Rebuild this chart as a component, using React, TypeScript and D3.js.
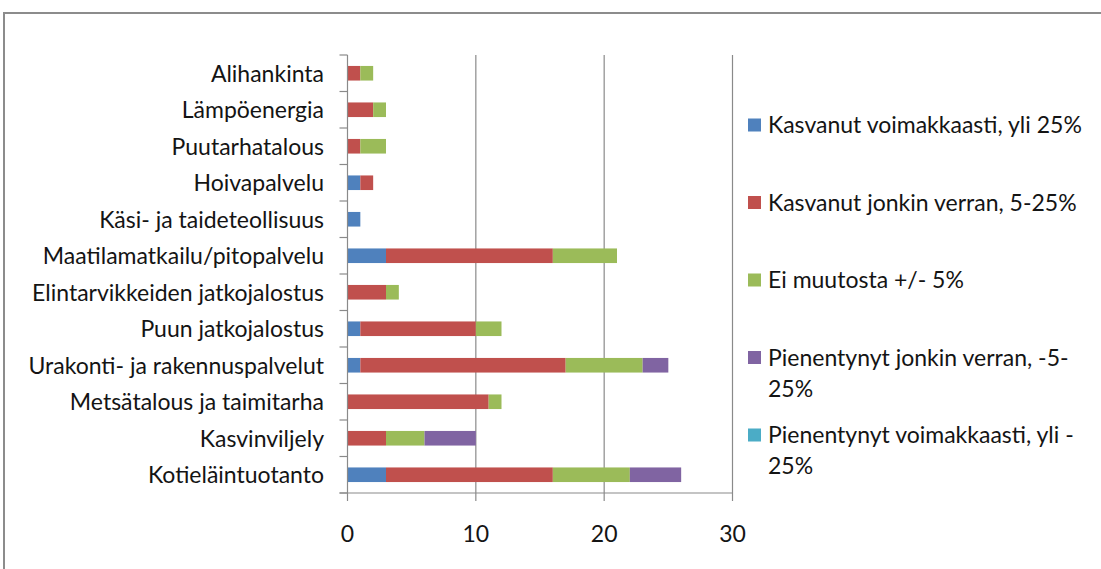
import React from 'react';
import * as d3 from 'd3';

// categories, top to bottom as in the chart
const categories = [
  'Alihankinta',
  'Lämpöenergia',
  'Puutarhatalous',
  'Hoivapalvelu',
  'Käsi- ja taideteollisuus',
  'Maatilamatkailu/pitopalvelu',
  'Elintarvikkeiden jatkojalostus',
  'Puun jatkojalostus',
  'Urakonti- ja rakennuspalvelut',
  'Metsätalous ja taimitarha',
  'Kasvinviljely',
  'Kotieläintuotanto',
];

const kasvanutVoimakkaasti = [0, 0, 0, 1, 1, 3, 0, 1, 1, 0, 0, 3];
const kasvanutJonkin = [1, 2, 1, 1, 0, 13, 3, 9, 16, 11, 3, 13];
const eiMuutosta = [1, 1, 2, 0, 0, 5, 1, 2, 6, 1, 3, 6];
const pienentynytJonkin = [0, 0, 0, 0, 0, 0, 0, 0, 2, 0, 4, 4];
const pienentynytVoimakkaasti = [0, 0, 0, 0, 0, 0, 0, 0, 0, 0, 0, 0];

const seriesNames = [
  'Kasvanut voimakkaasti, yli 25%',
  'Kasvanut jonkin verran, 5-25%',
  'Ei muutosta +/- 5%',
  'Pienentynyt jonkin verran, -5-25%',
  'Pienentynyt voimakkaasti, yli -25%',
];
// how the legend wraps the names
const legendLines = [
  ['Kasvanut voimakkaasti, yli 25%'],
  ['Kasvanut jonkin verran, 5-25%'],
  ['Ei muutosta +/- 5%'],
  ['Pienentynyt jonkin verran, -5-', '25%'],
  ['Pienentynyt voimakkaasti, yli -', '25%'],
];
const colors = ['#4F81BD', '#C0504D', '#9BBB59', '#8064A2', '#4BACC6'];
const xTicks = [0, 10, 20, 30];

const FONT = 'Lato, "Open Sans", sans-serif';
const FS = 23;

export default function App() {
  const width = 1101;
  const height = 569;
  const left = 347.5;
  const right = 732.5;
  const top = 55;
  const bottom = 493;

  const rows = categories.map((c, i) => ({
    cat: c,
    s0: kasvanutVoimakkaasti[i],
    s1: kasvanutJonkin[i],
    s2: eiMuutosta[i],
    s3: pienentynytJonkin[i],
    s4: pienentynytVoimakkaasti[i],
  }));
  const keys = ['s0', 's1', 's2', 's3', 's4'];
  const stacked = d3.stack<any>().keys(keys)(rows);

  const x = d3.scaleLinear().domain([0, 30]).range([left, right]);
  const y = d3
    .scaleBand<string>()
    .domain(categories)
    .range([top, bottom])
    .paddingInner(0.6)
    .paddingOuter(0.3);
  const step = y.step();
  const boundaries = d3.range(categories.length + 1).map((i) => top + i * step);

  const gridColor = '#8a8a8a';
  const textColor = '#141414';

  return (
    <svg
      width={width}
      height={height}
      style={{ position: 'absolute', left: 0, top: 0, background: '#fff' }}
    >
      <rect x={4} y={13} width={1200} height={700} fill="#fff" stroke="#8c8c8c" strokeWidth={2} />

      {/* gridlines */}
      {xTicks.slice(1).map((t) => (
        <line key={'g' + t} x1={x(t)} x2={x(t)} y1={top} y2={bottom} stroke={gridColor} strokeWidth={1.2} />
      ))}

      {/* bars */}
      {stacked.map((layer, si) => (
        <g key={keys[si]} fill={colors[si]}>
          {layer.map((d, i) =>
            d[1] - d[0] > 0 ? (
              <rect
                key={i}
                x={x(d[0])}
                y={y(categories[i])}
                width={x(d[1]) - x(d[0])}
                height={y.bandwidth()}
              />
            ) : null
          )}
        </g>
      ))}

      {/* y axis */}
      <line x1={left} x2={left} y1={top} y2={bottom} stroke={gridColor} strokeWidth={1.2} />
      {boundaries.map((b, i) => (
        <line key={'yt' + i} x1={left - 8} x2={left} y1={b} y2={b} stroke={gridColor} strokeWidth={1.2} />
      ))}
      {categories.map((c) => (
        <text
          key={c}
          x={324}
          y={(y(c) as number) + y.bandwidth() / 2}
          dy="0.36em"
          textAnchor="end"
          fontFamily={FONT}
          fontSize={FS}
          fill={textColor}
        >
          {c}
        </text>
      ))}

      {/* x axis */}
      <line x1={left - 8} x2={right} y1={bottom} y2={bottom} stroke={gridColor} strokeWidth={1.2} />
      {xTicks.map((t) => (
        <g key={'xt' + t}>
          <line x1={x(t)} x2={x(t)} y1={bottom} y2={bottom + 8} stroke={gridColor} strokeWidth={1.2} />
          <text x={x(t)} y={542} textAnchor="middle" fontFamily={FONT} fontSize={FS} fill={textColor}>
            {t}
          </text>
        </g>
      ))}

      {/* legend */}
      {seriesNames.map((name, i) => {
        const cy = 125 + i * 77.5;
        return (
          <g key={name}>
            <rect x={748} y={cy - 6.5} width={13} height={13} fill={colors[i]} />
            <text x={768} y={cy} fontFamily={FONT} fontSize={FS} fill={textColor}>
              {legendLines[i].map((ln, k) => (
                <tspan key={k} x={768} dy={k === 0 ? '0.36em' : 31}>
                  {ln}
                </tspan>
              ))}
            </text>
          </g>
        );
      })}
    </svg>
  );
}
